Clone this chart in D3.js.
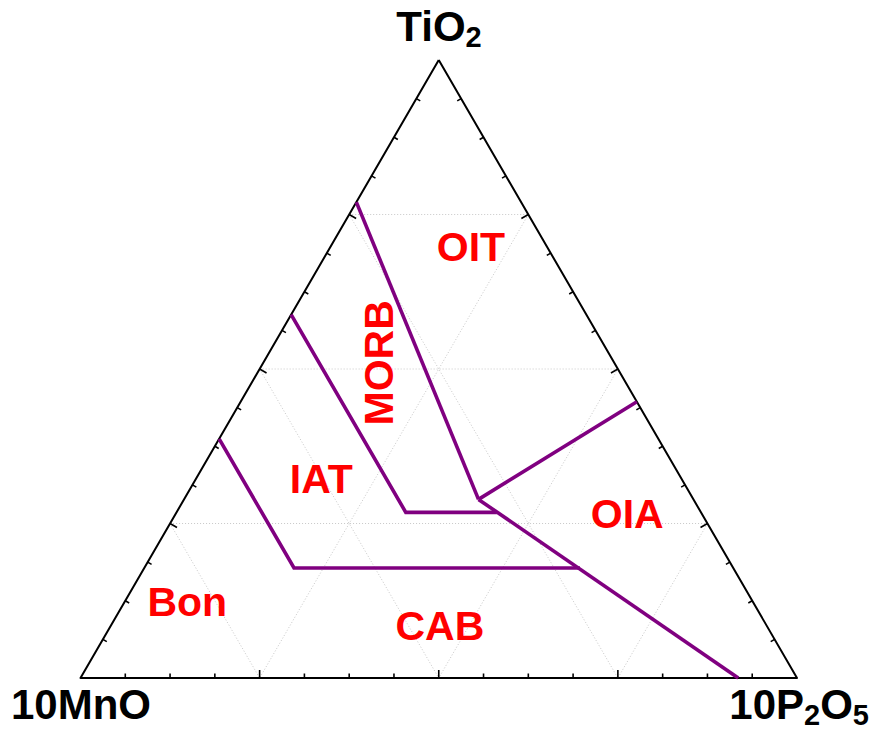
<!DOCTYPE html>
<html>
<head>
<meta charset="utf-8">
<script src="https://cdn.jsdelivr.net/npm/d3@7"></script>
<style>
  html, body { margin: 0; padding: 0; background: #fff; }
  svg { display: block; }
  text { font-family: "Liberation Sans", Arial, sans-serif; font-weight: bold; }
</style>
</head>
<body>
<svg id="chart" width="873" height="731"></svg>
<script>
// Ternary components are given as [TiO2, 10MnO, 10P2O5] fractions.
const apexNames = [
  { main: "TiO", sub: "2", tail: "" },
  { main: "10MnO", sub: "", tail: "" },
  { main: "10P", sub: "2", tail: "O", sub2: "5" }
];

// Field boundaries (Mullen 1983 style TiO2–MnO–P2O5 diagram)
const boundaryOIT_MORB = [[0.770, 0.230, 0.000], [0.289, 0.300, 0.411]];
const boundaryOIT_OIA  = [[0.289, 0.300, 0.411], [0.447, 0.000, 0.553]];
const boundaryOIA_CAB  = [[0.289, 0.300, 0.411], [0.000, 0.082, 0.918]];
const boundaryMORB_IAT = [[0.588, 0.412, 0.000], [0.268, 0.412, 0.320], [0.268, 0.285, 0.447]];
const boundaryIAT_CAB  = [[0.387, 0.613, 0.000], [0.178, 0.613, 0.209], [0.178, 0.214, 0.608]];
const boundaries = [boundaryOIT_MORB, boundaryOIT_OIA, boundaryOIA_CAB, boundaryMORB_IAT, boundaryIAT_CAB];

// Field names and their anchor compositions
const fieldNames = ["OIT", "MORB", "IAT", "Bon", "CAB", "OIA"];
const fieldAnchors = [
  [0.674, 0.118, 0.208],
  [0.510, 0.309, 0.181],
  [0.300, 0.514, 0.186],
  [0.100, 0.801, 0.099],
  [0.061, 0.468, 0.471],
  [0.242, 0.116, 0.642]
];
const fieldRotation = [0, -90, 0, 0, 0, 0];

// Grid and tick fractions
const gridValues = [0.25, 0.5, 0.75];
const tickValues = d3.range(1, 16).map(i => i / 16);

const svg = d3.select("#chart");

const xL = 80.5, xR = 797, yB = 678, yT = 60;
const xScale = d3.scaleLinear().domain([0, 1]).range([xL, xR]);
const yScale = d3.scaleLinear().domain([0, 1]).range([yB, yT]);

// project [t, m, p] into screen coordinates
function proj(c) {
  const s = c[0] + c[1] + c[2];
  const t = c[0] / s, p = c[2] / s;
  return [xScale(p + t / 2), yScale(t)];
}

const line = d3.line().x(d => proj(d)[0]).y(d => proj(d)[1]);

// dotted grid in three directions
const grid = svg.append("g")
  .attr("fill", "none")
  .attr("stroke", "#c8c8c8")
  .attr("stroke-width", 1)
  .attr("stroke-dasharray", "1,2");
gridValues.forEach(v => {
  // constant TiO2
  grid.append("path").attr("d", line([[v, 1 - v, 0], [v, 0, 1 - v]]));
  // constant 10MnO
  grid.append("path").attr("d", line([[1 - v, v, 0], [0, v, 1 - v]]));
  // constant 10P2O5
  grid.append("path").attr("d", line([[1 - v, 0, v], [0, 1 - v, v]]));
});

// triangle frame
const A = [1, 0, 0], L = [0, 1, 0], R = [0, 0, 1];
svg.append("path")
  .attr("d", line([A, L, R, A]))
  .attr("fill", "none")
  .attr("stroke", "#000")
  .attr("stroke-width", 2)
  .attr("stroke-linejoin", "round");

// inward ticks on each edge
const ticks = svg.append("g").attr("stroke", "#000").attr("stroke-width", 1.6);
const edges = [
  { from: L, to: R, n: [0, -1] },
  { from: L, to: A, n: [Math.cos(Math.PI / 6), Math.sin(Math.PI / 6)] },
  { from: R, to: A, n: [-Math.cos(Math.PI / 6), Math.sin(Math.PI / 6)] }
];
edges.forEach(e => {
  tickValues.forEach((f, i) => {
    const c = [0, 1, 2].map(k => e.from[k] * (1 - f) + e.to[k] * f);
    const [x, y] = proj(c);
    const major = (i + 1) % 4 === 0;
    const len = major ? 8 : 4.5;
    ticks.append("line")
      .attr("x1", x).attr("y1", y)
      .attr("x2", x + e.n[0] * len).attr("y2", y + e.n[1] * len);
  });
});

// field boundaries
svg.append("g")
  .attr("fill", "none")
  .attr("stroke", "#800080")
  .attr("stroke-width", 3.6)
  .selectAll("path")
  .data(boundaries)
  .join("path")
  .attr("d", d => line(d));

// field names
svg.append("g")
  .selectAll("text")
  .data(fieldNames)
  .join("text")
  .attr("transform", (d, i) => {
    const [x, y] = proj(fieldAnchors[i]);
    return `translate(${x},${y}) rotate(${fieldRotation[i]})`;
  })
  .attr("text-anchor", "middle")
  .attr("font-size", 41)
  .attr("fill", "#ff0000")
  .text(d => d);

// apex labels
function apexLabel(spec, x, y, anchor) {
  const t = svg.append("text")
    .attr("x", x).attr("y", y)
    .attr("text-anchor", anchor)
    .attr("font-size", 42)
    .attr("fill", "#000");
  t.append("tspan").text(spec.main);
  if (spec.sub) t.append("tspan").attr("font-size", 29).attr("dy", 6).text(spec.sub);
  if (spec.tail) t.append("tspan").attr("dy", -6).text(spec.tail);
  if (spec.sub2) t.append("tspan").attr("font-size", 29).attr("dy", 6).text(spec.sub2);
}
apexLabel(apexNames[0], 439, 41, "middle");
apexLabel(apexNames[1], 11, 719, "start");
apexLabel(apexNames[2], 869, 719, "end");
</script>
</body>
</html>
